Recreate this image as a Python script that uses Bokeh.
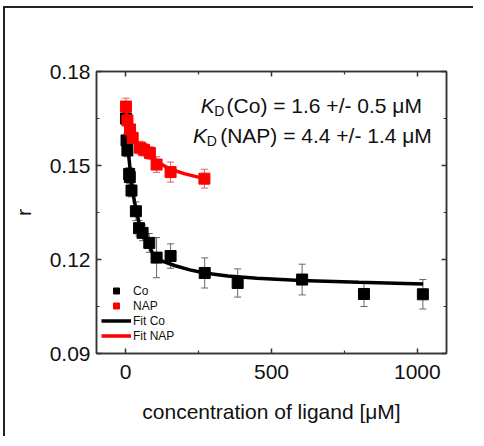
from bokeh.plotting import figure
from bokeh.models import (ColumnDataSource, Whisker, TeeHead, FixedTicker, LinearAxis,
                          Legend, LegendItem, Label, PrintfTickFormatter, Range1d,
                          CustomJSTickFormatter)
from bokeh.embed import file_html
from bokeh.resources import INLINE

# ---- data ----
co_x = [1, 3, 6, 12, 14, 20, 35, 46, 58, 81, 106, 154, 271, 384, 605, 817, 1019]
co_y = [0.165, 0.158, 0.1548, 0.1473, 0.1463, 0.142, 0.1354, 0.130, 0.1285, 0.1253,
        0.1206, 0.1211, 0.1157, 0.1125, 0.1136, 0.109, 0.1089]
co_err = [0.002, 0.002, 0.002, 0.002, 0.002, 0.002, 0.003, 0.0025, 0.0025, 0.003,
          0.0064, 0.0039, 0.0048, 0.0045, 0.0049, 0.004, 0.0047]

nap_x = [1, 6, 15, 24, 49, 63, 83, 106, 154, 270]
nap_y = [0.1688, 0.1644, 0.1615, 0.1588, 0.1557, 0.155, 0.154, 0.1503, 0.1479, 0.1458]
nap_err = [0.0027, 0.002, 0.002, 0.002, 0.002, 0.002, 0.002, 0.0025, 0.0032, 0.003]

fit_co_x = [0, 5, 10, 20, 30, 45, 60, 80, 100, 130, 170, 220, 270, 350, 450, 600, 800, 1020]
fit_co_y = [0.165, 0.159, 0.1535, 0.1445, 0.1385, 0.132, 0.128, 0.1245, 0.1205, 0.1193,
            0.118, 0.1167, 0.1157, 0.1147, 0.114, 0.1133, 0.1127, 0.1122]

fit_nap_x = [0, 5, 10, 20, 35, 50, 70, 100, 150, 200, 270]
fit_nap_y = [0.1685, 0.1655, 0.163, 0.160, 0.1572, 0.1555, 0.1537, 0.1515, 0.149, 0.1474, 0.1458]

x_major = [0, 500, 1000]
x_minor = [250, 750]
y_major = [0.09, 0.12, 0.15, 0.18]
y_minor = [0.105, 0.135, 0.165]

FONT = "Liberation Sans"
AX = "#333333"

p = figure(width=470, height=430, output_backend="svg", toolbar_location=None,
           x_range=Range1d(-100, 1100), y_range=Range1d(0.09, 0.18),
           x_axis_location=None, y_axis_location=None,
           min_border_left=91, min_border_right=29, min_border_top=63, min_border_bottom=85)
p.styles = {"margin-left": "3px", "margin-top": "6px",
            "border-left": "2px solid #222", "border-top": "2px solid #222"}
p.xgrid.visible = False
p.ygrid.visible = False
p.outline_line_color = AX
p.outline_line_width = 1.5
p.background_fill_color = "white"
p.border_fill_color = "white"

bottom_ax = LinearAxis()
left_ax = LinearAxis()
top_ax = LinearAxis()
right_ax = LinearAxis()
p.add_layout(bottom_ax, "below")
p.add_layout(left_ax, "left")
p.add_layout(top_ax, "above")
p.add_layout(right_ax, "right")

for ax in [bottom_ax, top_ax]:
    ax.ticker = FixedTicker(ticks=x_major, minor_ticks=x_minor)
for ax in [left_ax, right_ax]:
    ax.ticker = FixedTicker(ticks=y_major, minor_ticks=y_minor)

for ax in [bottom_ax, left_ax, top_ax, right_ax]:
    ax.axis_line_color = AX
    ax.axis_line_width = 1.5
    ax.major_tick_in = 5
    ax.major_tick_out = 0
    ax.minor_tick_in = 3
    ax.minor_tick_out = 0
    ax.major_tick_line_color = AX
    ax.major_tick_line_width = 1.5
    ax.minor_tick_line_color = AX
    ax.minor_tick_line_width = 1.2
    ax.major_label_text_font = FONT
    ax.major_label_text_font_size = "21px"
    ax.major_label_text_color = "#111111"
    ax.axis_label_text_font = FONT
    ax.axis_label_text_font_size = "21px"
    ax.axis_label_text_font_style = "normal"
    ax.axis_label_text_color = "#111111"

for ax in [top_ax, right_ax]:
    ax.formatter = CustomJSTickFormatter(code="return '';")
    ax.major_label_standoff = 0
    ax.major_label_text_font_size = "0px"

left_ax.formatter = PrintfTickFormatter(format="%.2f")
bottom_ax.axis_label = "concentration of ligand [\u03bcM]"
left_ax.axis_label = "r"
bottom_ax.major_label_standoff = 11
left_ax.major_label_standoff = 6
bottom_ax.axis_label_standoff = 18
left_ax.axis_label_standoff = 12

# ---- data ----
src_co = ColumnDataSource(dict(x=co_x, y=co_y,
                               lo=[a - b for a, b in zip(co_y, co_err)],
                               hi=[a + b for a, b in zip(co_y, co_err)]))
src_nap = ColumnDataSource(dict(x=nap_x, y=nap_y,
                                lo=[a - b for a, b in zip(nap_y, nap_err)],
                                hi=[a + b for a, b in zip(nap_y, nap_err)]))

for src, col in [(src_co, "#666666"), (src_nap, "#e06060")]:
    w = Whisker(source=src, base="x", lower="lo", upper="hi", line_color=col, line_width=1,
                upper_head=TeeHead(size=7, line_color=col, line_width=1),
                lower_head=TeeHead(size=7, line_color=col, line_width=1),
                level="underlay")
    p.add_layout(w)

l_co = p.line(fit_co_x, fit_co_y, line_color="black", line_width=3.5)
s_co = p.scatter("x", "y", source=src_co, marker="square", size=11,
                 fill_color="black", line_color="black")
l_nap = p.line(fit_nap_x, fit_nap_y, line_color="#ff0000", line_width=3.5)
s_nap = p.scatter("x", "y", source=src_nap, marker="square", size=11,
                  fill_color="#ff0000", line_color="#ff0000")

legend = Legend(items=[LegendItem(label="Co", renderers=[s_co]),
                       LegendItem(label="NAP", renderers=[s_nap]),
                       LegendItem(label="Fit Co", renderers=[l_co]),
                       LegendItem(label="Fit NAP", renderers=[l_nap])],
                location=(5, 10), border_line_color=None, background_fill_alpha=0,
                padding=0, margin=0, spacing=0, glyph_width=30, glyph_height=15,
                label_height=15, label_standoff=2, label_text_font=FONT,
                label_text_font_size="12px", label_text_color="#111111")
p.add_layout(legend)

# ---- K_D annotations ----
ann = [
    (257, 0.16906, "K", "21px", "italic"),
    (304, 0.1673, "D", "14px", "normal"),
    (346, 0.16906, "(Co) = 1.6 +/- 0.5 \u03bcM", "21px", "normal"),
    (231, 0.15946, "K", "21px", "italic"),
    (278, 0.1577, "D", "14px", "normal"),
    (324, 0.15946, "(NAP) = 4.4 +/- 1.4 \u03bcM", "21px", "normal"),
]
for x, y, t, fs, st in ann:
    p.add_layout(Label(x=x, y=y, text=t, text_font=FONT, text_font_size=fs,
                       text_font_style=st, text_color="#111111",
                       text_baseline="alphabetic", text_align="left"))

open("out.html", "w").write(file_html(p, INLINE))
